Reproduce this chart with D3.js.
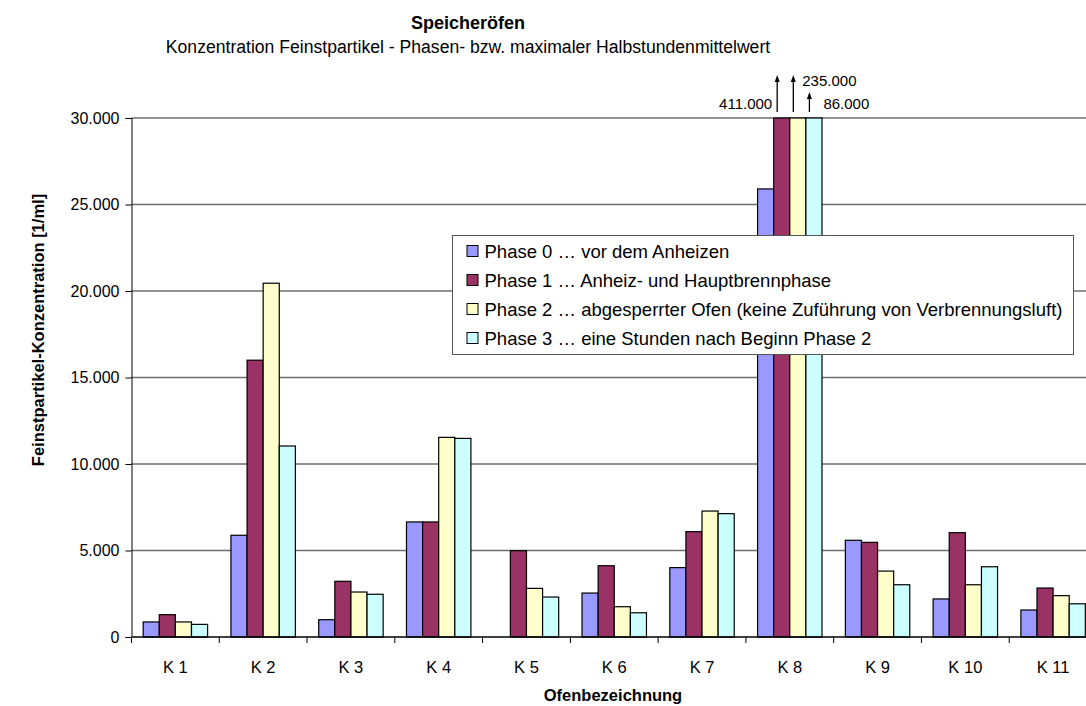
<!DOCTYPE html>
<html>
<head>
<meta charset="utf-8">
<script src="https://cdn.jsdelivr.net/npm/d3@7"></script>
<style>
  body { margin: 0; background: #fff; }
  svg { display: block; font-family: "Liberation Sans", Arial, sans-serif; }
</style>
</head>
<body>
<svg id="chart" width="1086" height="706"></svg>
<script>
// ofen names and phase values (particles per ml)
var ofen = ["K 1", "K 2", "K 3", "K 4", "K 5", "K 6", "K 7", "K 8", "K 9", "K 10", "K 11"];
var phases = [
    "Phase 0 … vor dem Anheizen",
    "Phase 1 … Anheiz- und Hauptbrennphase",
    "Phase 2 … abgesperrter Ofen (keine Zuführung von Verbrennungsluft)",
    "Phase 3 … eine Stunden nach Beginn Phase 2"
];
var phase0 = [870, 5880, 1000, 6650, 0, 2540, 4010, 25900, 5590, 2200, 1560];
var phase1 = [1290, 16000, 3220, 6650, 4990, 4120, 6090, 411000, 5470, 6030, 2830];
var phase2 = [870, 20450, 2600, 11540, 2810, 1750, 7280, 235000, 3810, 3020, 2390];
var phase3 = [730, 11040, 2470, 11480, 2310, 1400, 7130, 86000, 3020, 4060, 1920];
var yTicks = [0, 5000, 10000, 15000, 20000, 25000, 30000];

var series = [phase0, phase1, phase2, phase3];
var colors = ["#9999ff", "#993366", "#ffffcc", "#ccffff"];

// plot box (right side runs past the window edge, like the original)
var plotLeft = 131.5, plotRight = 1097, plotTop = 118, plotBottom = 637;
var svg = d3.select("#chart");

var de = d3.formatLocale({ decimal: ",", thousands: ".", grouping: [3], currency: ["", " €"] });
var fmt = de.format(",.0f");

var x0 = d3.scaleBand().domain(ofen).range([plotLeft, plotRight]).paddingInner(0.266).paddingOuter(0.133);
var x1 = d3.scaleBand().domain(d3.range(series.length)).range([0, x0.bandwidth()]);
var y = d3.scaleLinear().domain([0, 30000]).range([plotBottom, plotTop]).clamp(true);

// titles
svg.append("text").attr("x", 468).attr("y", 29).attr("text-anchor", "middle")
    .style("font-size", "18px").style("font-weight", "bold").text("Speicheröfen");
svg.append("text").attr("x", 468).attr("y", 53).attr("text-anchor", "middle")
    .style("font-size", "17.6px").text("Konzentration Feinstpartikel - Phasen- bzw. maximaler Halbstundenmittelwert");

// gridlines
svg.append("g").selectAll("line")
    .data(yTicks.filter(d => d > 0))
    .enter().append("line")
    .attr("x1", plotLeft).attr("x2", plotRight)
    .attr("y1", d => y(d)).attr("y2", d => y(d))
    .attr("stroke", "#6e6e6e").attr("stroke-width", 1.4);

// bars
var groups = svg.append("g").selectAll("g")
    .data(ofen)
    .enter().append("g")
    .attr("transform", d => "translate(" + x0(d) + ",0)");

groups.selectAll("rect")
    .data((d, i) => series.map((s, j) => ({ k: j, v: s[i] })).filter(e => e.v > 0))
    .enter().append("rect")
    .attr("x", d => x1(d.k))
    .attr("y", d => y(d.v))
    .attr("width", x1.bandwidth())
    .attr("height", d => plotBottom - y(d.v))
    .attr("fill", d => colors[d.k])
    .attr("stroke", "#000").attr("stroke-width", 1.2);

// axes
var yAxis = svg.append("g").attr("transform", "translate(" + plotLeft + ",0)")
    .call(d3.axisLeft(y).tickValues(yTicks).tickFormat(fmt).tickSize(6).tickPadding(6));
yAxis.select(".domain").attr("stroke", "#000");
yAxis.selectAll("text").style("font-size", "16px").attr("fill", "#000");

var xAxis = svg.append("g").attr("transform", "translate(0," + plotBottom + ")");
xAxis.append("line").attr("x1", plotLeft).attr("x2", plotRight).attr("stroke", "#000").attr("stroke-width", 1.3);
xAxis.selectAll("line.tick")
    .data(ofen)
    .enter().append("line").attr("class", "tick")
    .attr("x1", d => x0(d) - x0.step() * x0.paddingInner() / 2)
    .attr("x2", d => x0(d) - x0.step() * x0.paddingInner() / 2)
    .attr("y1", 0).attr("y2", 6).attr("stroke", "#000");
xAxis.selectAll("text")
    .data(ofen)
    .enter().append("text")
    .attr("x", d => x0(d) + x0.bandwidth() / 2)
    .attr("y", 36).attr("text-anchor", "middle")
    .style("font-size", "16.5px").text(d => d);

// axis titles
svg.append("text").attr("x", 613).attr("y", 701).attr("text-anchor", "middle")
    .style("font-size", "16.5px").style("font-weight", "bold").text("Ofenbezeichnung");
svg.append("text").attr("transform", "translate(44,330) rotate(-90)").attr("text-anchor", "middle")
    .style("font-size", "16.5px").style("font-weight", "bold").text("Feinstpartikel-Konzentration [1/ml]");

// arrows for the off-scale values of K 8
var k8 = ofen.indexOf("K 8");
var over = series.map((s, j) => ({ k: j, v: s[k8] })).filter(d => d.v > 30000);
var arrowTop = [75, 75, 92];
var labelPos = [{ dx: -5, y: 109, anchor: "end" }, { dx: 9, y: 86, anchor: "start" }, { dx: 14, y: 109, anchor: "start" }];
var ann = svg.append("g");
over.forEach(function (d, i) {
    var ax = x0("K 8") + x1(d.k) + 3.5;
    ann.append("line").attr("x1", ax).attr("x2", ax)
        .attr("y1", plotTop - 6).attr("y2", arrowTop[i] + 6)
        .attr("stroke", "#000").attr("stroke-width", 1.3);
    ann.append("path")
        .attr("d", "M" + (ax - 2.5) + "," + (arrowTop[i] + 7) + " L" + ax + "," + arrowTop[i] + " L" + (ax + 2.5) + "," + (arrowTop[i] + 7) + " Z")
        .attr("fill", "#000");
    ann.append("text").attr("x", ax + labelPos[i].dx).attr("y", labelPos[i].y)
        .attr("text-anchor", labelPos[i].anchor)
        .style("font-size", "15px").text(fmt(d.v));
});

// legend
var lg = svg.append("g").attr("transform", "translate(452.5,235.5)");
lg.append("rect").attr("width", 621).attr("height", 119)
    .attr("fill", "#fff").attr("stroke", "#555").attr("stroke-width", 1);
var items = lg.selectAll("g").data(phases).enter().append("g")
    .attr("transform", (d, i) => "translate(14," + (15.5 + i * 29) + ")");
items.append("rect").attr("x", 0.5).attr("y", -5.5).attr("width", 11).attr("height", 11)
    .attr("fill", (d, i) => colors[i]).attr("stroke", "#000");
items.append("text").attr("x", 18).attr("y", 6.5)
    .style("font-size", "18.5px").text(d => d);
</script>
</body>
</html>
